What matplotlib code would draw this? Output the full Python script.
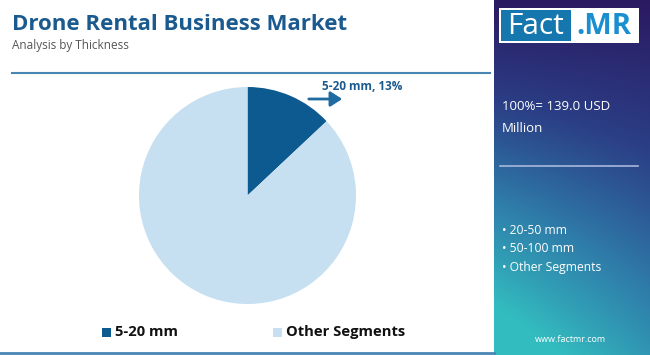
import numpy as np
import matplotlib.pyplot as plt
from matplotlib.colors import LinearSegmentedColormap
from matplotlib.patches import Rectangle

W, H = 650, 355

segments = ["5-20 mm", "Other Segments"]
shares = [13, 87]
colors = ["#0d5a91", "#c6e0f1"]
other_items = ["20-50 mm", "50-100 mm", "Other Segments"]
total_text = "100%= 139.0 USD\nMillion"

plt.rcParams['font.family'] = ['Open Sans', 'DejaVu Sans']

fig = plt.figure(figsize=(6.5, 3.55), dpi=100)
bg = fig.add_axes([0, 0, 1, 1])
bg.set_xlim(0, W)
bg.set_ylim(H, 0)
bg.axis("off")

# right panel gradient
px0 = 494
gx, gy = np.meshgrid(np.linspace(0, 1, 80), np.linspace(0, 1, 200))
grad = np.clip(0.75 * gy + 0.35 * (1 - gx) * gy + 0.05, 0, 1)
cmap = LinearSegmentedColormap.from_list("fm", ["#2a1a62", "#2b3f86", "#2f7fab", "#33bcbf"])
bg.imshow(grad, cmap=cmap, extent=[px0, W, H, 0], aspect="auto", zorder=0)

# logo
bg.add_patch(Rectangle((499, 8), 140, 35, facecolor="white", zorder=2))
bg.add_patch(Rectangle((501, 10), 70, 31, facecolor="#1676ae", zorder=3))
bg.text(535, 26, "Fact", color="white", fontsize=21.5, ha="center", va="center", zorder=4)
bg.text(604, 26, ".MR", color="#1a8fcf", fontsize=21, fontweight="bold", ha="center", va="center", zorder=4)

# titles
bg.text(12, 24, "Drone Rental Business Market", color="#1b5a8e", fontsize=16,
        fontweight="bold", va="center")
bg.text(12, 45, "Analysis by Thickness", color="#555555", fontsize=8.5, va="center")
bg.plot([12, 490], [73, 73], color="#4a86b4", lw=1.5)
bg.plot([0, 494], [353, 353], color="#4a86b4", lw=2)

# right panel text
bg.text(502, 117, total_text, color="white", fontsize=9.5, va="center", linespacing=1.9)
bg.plot([500, 638], [166, 166], color="#a9b8dc", lw=1.2)
for i, item in enumerate(other_items):
    bg.text(502, 231 + i * 18, "\u2022 " + item, color="white", fontsize=8.7, va="center")
bg.text(570, 340, "www.factmr.com", color="white", fontsize=6.5, ha="center", va="center")

# pie
cx, cy, r = 247.5, 195.5, 108.5
pax = fig.add_axes([(cx - r) / W, (H - cy - r) / H, 2 * r / W, 2 * r / H])
pax.pie(shares, colors=colors, startangle=90, counterclock=False,
        wedgeprops=dict(linewidth=0))
pax.set_xlim(-1, 1)
pax.set_ylim(-1, 1)
pax.set_aspect("equal")

# annotation
bg.annotate("", xy=(345, 99), xytext=(306, 99),
            arrowprops=dict(arrowstyle="-|>,head_width=0.45,head_length=0.7",
                            color="#1f6aa0", lw=2))
bg.text(322, 87, f"{segments[0]}, {shares[0]}%", color="#1b5a8e", fontsize=8.5,
        fontweight="bold", va="center")

# legend
lx = [102, 273]
for x, lab, c in zip(lx, segments, colors):
    bg.add_patch(Rectangle((x, 328), 9, 9, facecolor=c))
    bg.text(x + 13, 332, lab, color="#111111", fontsize=10.6, fontweight="bold", va="center")

fig.savefig("out.png", dpi=100)
